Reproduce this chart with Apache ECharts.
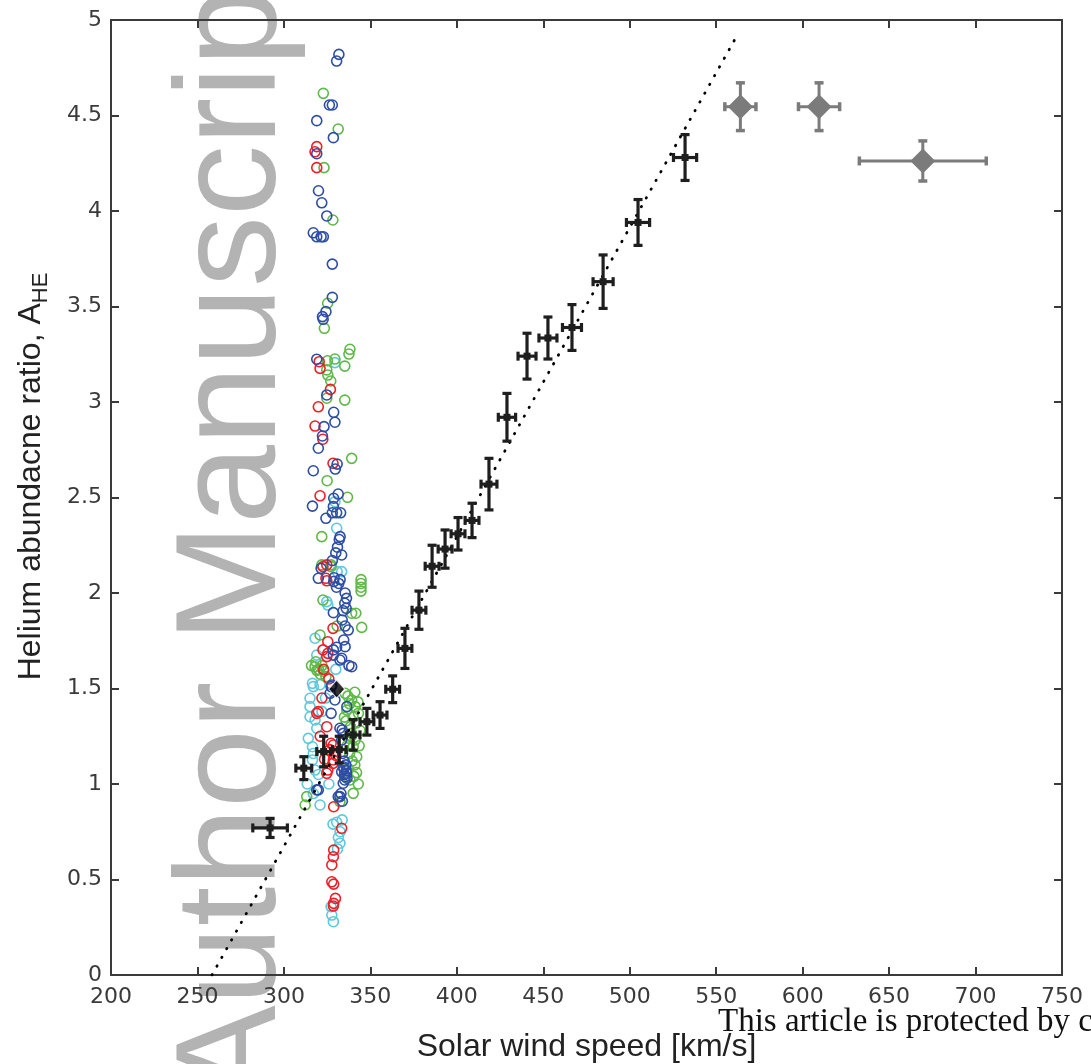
<!DOCTYPE html>
<html>
<head>
<meta charset="utf-8">
<script src="https://cdn.jsdelivr.net/npm/echarts@6/dist/echarts.min.js"></script>
<style>html,body{margin:0;padding:0;background:#fff;}#c{width:1091px;height:1064px;}</style>
</head>
<body>
<div id="c"></div>
<script>
// ---- data ----
const xTicks = [200, 250, 300, 350, 400, 450, 500, 550, 600, 650, 700, 750];
const yTicks = [0, 0.5, 1, 1.5, 2, 2.5, 3, 3.5, 4, 4.5, 5];

const crossSpeed    = [292, 311.5, 323, 332, 340, 348, 355.6, 362.9, 370, 378.1, 385.7, 393.2, 400.7, 408.8, 418.6, 429, 440.6, 452.7, 466.6, 484.6, 504.8, 532];
const crossAbund    = [0.77, 1.083, 1.17, 1.18, 1.257, 1.326, 1.361, 1.496, 1.71, 1.91, 2.14, 2.23, 2.31, 2.38, 2.57, 2.92, 3.24, 3.335, 3.39, 3.63, 3.94, 4.28];
const crossSpeedErr = [10, 4.6, 4, 4, 4, 4, 4, 4, 4, 4, 4, 4, 4, 4, 4.6, 5, 5.2, 5.2, 5.5, 5.8, 6.7, 6.7];
const crossAbundErr = [0.05, 0.06, 0.08, 0.07, 0.08, 0.07, 0.07, 0.07, 0.105, 0.1, 0.11, 0.1, 0.085, 0.09, 0.135, 0.125, 0.12, 0.11, 0.12, 0.14, 0.12, 0.12];

const diamondSpeed    = [564, 609.5, 669.5];
const diamondAbund    = [4.546, 4.546, 4.262];
const diamondSpeedErr = [9, 11.9, 36.7];
const diamondAbundErr = [0.125, 0.125, 0.105];

const blackDiamond = [[330.5, 1.497]];
const fitLine = [[258.4, 0], [560.9, 4.9]];

const redPts = [[319.0,4.337],[318.0,4.31],[319.0,4.227],[320.4,3.211],[320.9,3.176],[326.9,3.066],[319.9,2.975],[318.0,2.874],[322.5,2.805],[328.4,2.679],[320.9,2.509],[324.8,2.147],[324.8,2.064],[324.3,2.077],[322.6,2.138],[328.4,1.815],[325.4,1.745],[322.6,1.702],[324.8,1.667],[325.4,1.684],[319.9,1.379],[319.0,1.37],[324.8,1.3],[327.3,1.213],[328.6,1.204],[328.4,1.108],[328.6,1.126],[325.4,1.073],[324.8,1.056],[330.0,1.15],[321.0,1.25],[328.8,0.881],[333.4,0.768],[328.8,0.654],[328.6,0.619],[327.7,0.576],[327.7,0.488],[328.8,0.476],[329.8,0.401],[328.8,0.375],[328.6,0.361],[322.0,1.45],[326,1.55],[323,1.6],[326.5,1.18],[323.5,1.13]];

const bluePts = [[331.8,4.82],[330.5,4.785],[326.3,4.555],[328.0,4.555],[319.0,4.473],[328.6,4.384],[319.0,4.30],[320.0,4.106],[321.9,4.043],[324.8,3.974],[317.0,3.886],[319.0,3.865],[321.5,3.865],[322.8,3.865],[328.0,3.722],[328.0,3.548],[324.3,3.473],[322.3,3.447],[322.7,3.433],[319.0,3.224],[324.8,3.037],[328.8,2.946],[329.5,2.894],[323.2,2.871],[322.3,2.822],[319.9,2.758],[330.8,2.675],[329.7,2.649],[317.0,2.640],[331.4,2.518],[328.8,2.496],[316.5,2.455],[328.6,2.452],[328.0,2.42],[330.5,2.42],[332.8,2.42],[324.3,2.391],[332.5,2.295],[332,2.28],[331,2.24],[330,2.21],[328,2.17],[333.4,2.199],[321.5,2.129],[319.9,2.077],[328.8,2.06],[331.7,2.05],[330.4,2.03],[329,2.08],[332.5,2.07],[335.4,2.0],[336.2,1.972],[335.2,1.946],[336,1.92],[334.3,1.907],[328.6,1.897],[333.7,1.859],[335.4,1.827],[337.2,1.806],[334.6,1.754],[335.4,1.719],[330.5,1.716],[328.6,1.702],[332.4,1.649],[339.2,1.614],[337.6,1.62],[328.6,1.675],[333.4,1.658],[327.3,1.51],[327.7,1.518],[326.7,1.475],[329.5,1.44],[336.4,1.405],[327.3,1.37],[333.7,1.283],[332.4,1.292],[334.3,1.265],[333.4,1.23],[334.6,1.082],[333.4,1.064],[335.4,1.038],[334.3,1.09],[336.2,1.056],[335.2,1.021],[334.3,1.004],[336,1.07],[335,1.05],[319.0,0.969],[319.9,0.969],[331.4,0.934],[332.4,0.934],[333,0.95],[333.8,0.91],[335.8,1.1],[334.8,1.12],[336.5,1.03],[333.9,1.16]];

const greenPts = [[322.8,4.616],[331.4,4.429],[323.2,4.227],[328.3,3.953],[325.3,3.517],[323.4,3.386],[338.2,3.276],[337.6,3.251],[325.2,3.216],[329.5,3.225],[335.2,3.188],[324.8,3.168],[325.4,3.141],[327.1,3.11],[324.8,3.02],[335.2,3.01],[339.2,2.705],[325.0,2.588],[336.8,2.501],[321.9,2.295],[327.3,2.147],[321.9,2.147],[327.3,2.138],[344.6,2.05],[344.6,2.03],[344.6,2.01],[344.6,2.07],[322.6,1.963],[341.6,1.894],[339.2,1.894],[330.8,1.827],[345,1.82],[320.9,1.78],[318,1.614],[324.3,1.562],[320,1.6],[322,1.62],[318.5,1.64],[321,1.575],[323,1.59],[319,1.595],[316,1.62],[335.4,1.475],[339.2,1.44],[341.2,1.405],[343.1,1.37],[336.4,1.387],[338,1.42],[340,1.35],[336,1.33],[338.5,1.3],[342,1.32],[339.2,1.265],[341.2,1.23],[340.1,1.195],[342.1,1.143],[338,1.16],[341,1.1],[339,1.25],[336.5,1.2],[338.2,1.021],[340.1,0.951],[342,1.06],[343,1.0],[313.2,0.934],[312.3,0.89],[332.4,0.907],[337,1.46],[341,1.48],[335,1.35],[344,1.28],[337.5,1.24],[339.5,1.12],[343.5,1.2],[337.2,1.08],[340.5,1.04],[342.8,1.43]];

const cyanPts = [[329.5,3.206],[329.5,2.478],[330.5,2.339],[330.8,2.112],[333.4,2.112],[324.8,1.955],[325.4,1.937],[318,1.763],[319,1.675],[317,1.51],[316.5,1.527],[320.9,1.52],[315.1,1.449],[315.1,1.405],[318,1.335],[319,1.292],[315.1,1.352],[314.1,1.239],[316.5,1.195],[316.5,1.126],[318,1.073],[317,1.16],[313.5,1.0],[320.9,0.89],[328.4,0.79],[333.7,0.812],[332.4,0.69],[330.5,0.8],[331,0.66],[327.3,0.358],[327.7,0.314],[328.6,0.279],[324,1.45],[322,1.38],[326,1.0],[317,0.95],[330,1.6],[332.5,0.75],[320,1.05],[331.5,0.72]];

// ---- build ----
const crossData = crossSpeed.map((v, i) => [v, crossAbund[i], crossSpeedErr[i], crossAbundErr[i]]);
const diamondData = diamondSpeed.map((v, i) => [v, diamondAbund[i], diamondSpeedErr[i], diamondAbundErr[i]]);

function makeErrRender(color, lw, capLen, capT, marker, mSize) {
  return function (params, api) {
    const x = api.value(0), y = api.value(1), ex = api.value(2), ey = api.value(3);
    const c = api.coord([x, y]);
    const l = api.coord([x - ex, y]), r = api.coord([x + ex, y]);
    const t = api.coord([x, y + ey]), b = api.coord([x, y - ey]);
    const st = { stroke: color, lineWidth: lw };
    const fill = { fill: color };
    const ch = [
      { type: 'line', shape: { x1: l[0], y1: c[1], x2: r[0], y2: c[1] }, style: st },
      { type: 'line', shape: { x1: c[0], y1: t[1], x2: c[0], y2: b[1] }, style: st },
      { type: 'rect', shape: { x: c[0] - capLen / 2, y: t[1] - capT / 2, width: capLen, height: capT }, style: fill },
      { type: 'rect', shape: { x: c[0] - capLen / 2, y: b[1] - capT / 2, width: capLen, height: capT }, style: fill },
      { type: 'rect', shape: { x: l[0] - capT / 2, y: c[1] - capLen / 2, width: capT, height: capLen }, style: fill },
      { type: 'rect', shape: { x: r[0] - capT / 2, y: c[1] - capLen / 2, width: capT, height: capLen }, style: fill }
    ];
    if (marker === 'square') {
      ch.push({ type: 'rect', shape: { x: c[0] - mSize / 2, y: c[1] - mSize / 2, width: mSize, height: mSize }, style: fill });
    } else {
      const h = mSize / 2;
      ch.push({ type: 'polygon', shape: { points: [[c[0], c[1] - h], [c[0] + h, c[1]], [c[0], c[1] + h], [c[0] - h, c[1]]] }, style: fill });
    }
    return { type: 'group', children: ch };
  };
}

function circles(name, data, color) {
  return {
    name, type: 'scatter', data, symbol: 'circle', symbolSize: 10,
    itemStyle: { color: 'rgba(0,0,0,0)', borderColor: color, borderWidth: 1.6, opacity: 1 },
    z: 3, silent: true, animation: false
  };
}

const axisCol = '#3a3a3a';
const font = 'Liberation Sans, Arial, Helvetica, sans-serif';
const tickFont = 'DejaVu Sans, Liberation Sans, sans-serif';

const chart = echarts.init(document.getElementById('c'), null, { renderer: 'canvas' });
chart.setOption({
  animation: false,
  backgroundColor: '#fff',
  grid: { left: 111, right: 29, top: 20, bottom: 89, containLabel: false, outerBoundsMode: 'none' },
  graphic: [
    { type: 'text', z: 0, zlevel: 0, x: 236, y: 1100, rotation: Math.PI / 2, silent: true,
      style: { text: 'Author Manuscript', font: '142px Liberation Sans, Arial, sans-serif', fill: '#b3b3b3', align: 'left', verticalAlign: 'middle' } },
    { type: 'text', z: 100, x: 718, y: 1022, silent: true,
      style: { text: 'This article is protected by copyright. All rights reserved', font: '33px Liberation Serif, DejaVu Serif, serif', fill: '#111', align: 'left', verticalAlign: 'middle' } },
    { type: 'text', z: 100, x: -6, y: -9, silent: true,
      style: { text: ')', font: '22px Liberation Sans, Arial, sans-serif', fill: '#222' } }
  ],
  xAxis: [
    { type: 'value', min: xTicks[0], max: xTicks[xTicks.length - 1], interval: 50, position: 'bottom',
      name: 'Solar wind speed [km/s]', nameLocation: 'middle', nameGap: 54,
      nameTextStyle: { fontSize: 32, lineHeight: 36, color: '#222', fontFamily: font },
      axisLine: { show: true, onZero: false, lineStyle: { color: axisCol, width: 2 } },
      axisTick: { show: true, inside: true, length: 8, lineStyle: { color: axisCol, width: 2 } },
      axisLabel: { fontSize: 22, color: '#3a3a3a', margin: 11, fontFamily: tickFont },
      splitLine: { show: false } },
    { type: 'value', min: xTicks[0], max: xTicks[xTicks.length - 1], interval: 50, position: 'top',
      axisLine: { show: true, onZero: false, lineStyle: { color: axisCol, width: 2 } },
      axisTick: { show: true, inside: true, length: 8, lineStyle: { color: axisCol, width: 2 } },
      axisLabel: { show: false }, splitLine: { show: false } }
  ],
  yAxis: [
    { type: 'value', min: yTicks[0], max: yTicks[yTicks.length - 1], interval: 0.5, position: 'left',
      name: '{a|Helium abundacne ratio, A}{s|HE}', nameLocation: 'middle', nameGap: 62,
      nameTextStyle: { color: '#222', fontFamily: font, padding: [0, 0, 0, 42],
        rich: { a: { fontSize: 32, fontFamily: font, color: '#222', lineHeight: 36 },
                s: { fontSize: 22, fontFamily: font, color: '#222', lineHeight: 36, verticalAlign: 'bottom', padding: [0, 0, -3, 0] } } },
      axisLine: { show: true, onZero: false, lineStyle: { color: axisCol, width: 2 } },
      axisTick: { show: true, inside: true, length: 8, lineStyle: { color: axisCol, width: 2 } },
      axisLabel: { fontSize: 22, color: '#3a3a3a', margin: 9, fontFamily: tickFont },
      splitLine: { show: false } },
    { type: 'value', min: yTicks[0], max: yTicks[yTicks.length - 1], interval: 0.5, position: 'right',
      axisLine: { show: true, onZero: false, lineStyle: { color: axisCol, width: 2 } },
      axisTick: { show: true, inside: true, length: 8, lineStyle: { color: axisCol, width: 2 } },
      axisLabel: { show: false }, splitLine: { show: false } }
  ],
  series: [
    circles('cyan', cyanPts, '#5ec8dc'),
    circles('green', greenPts, '#5fb848'),
    circles('red', redPts, '#ec2027'),
    circles('blue', bluePts, '#2e4ea4'),
    { type: 'line', data: fitLine, symbol: 'none', z: 5, silent: true,
      lineStyle: { color: '#000', width: 2.8, type: [0.5, 9.5], cap: 'round' } },
    { type: 'custom', data: crossData, z: 6, silent: true,
      renderItem: makeErrRender('#1e1e1e', 3.2, 9, 3.2, 'square', 7),
      encode: { x: 0, y: 1 } },
    { type: 'custom', data: diamondData, z: 6, silent: true,
      renderItem: makeErrRender('#7b7b7b', 3, 9, 3.5, 'diamond', 25),
      encode: { x: 0, y: 1 } },
    { type: 'scatter', data: blackDiamond, symbol: 'diamond', symbolSize: [16, 18], z: 7, silent: true,
      itemStyle: { color: '#000', borderColor: '#fff', borderWidth: 1 } }
  ]
});
</script>
</body>
</html>
